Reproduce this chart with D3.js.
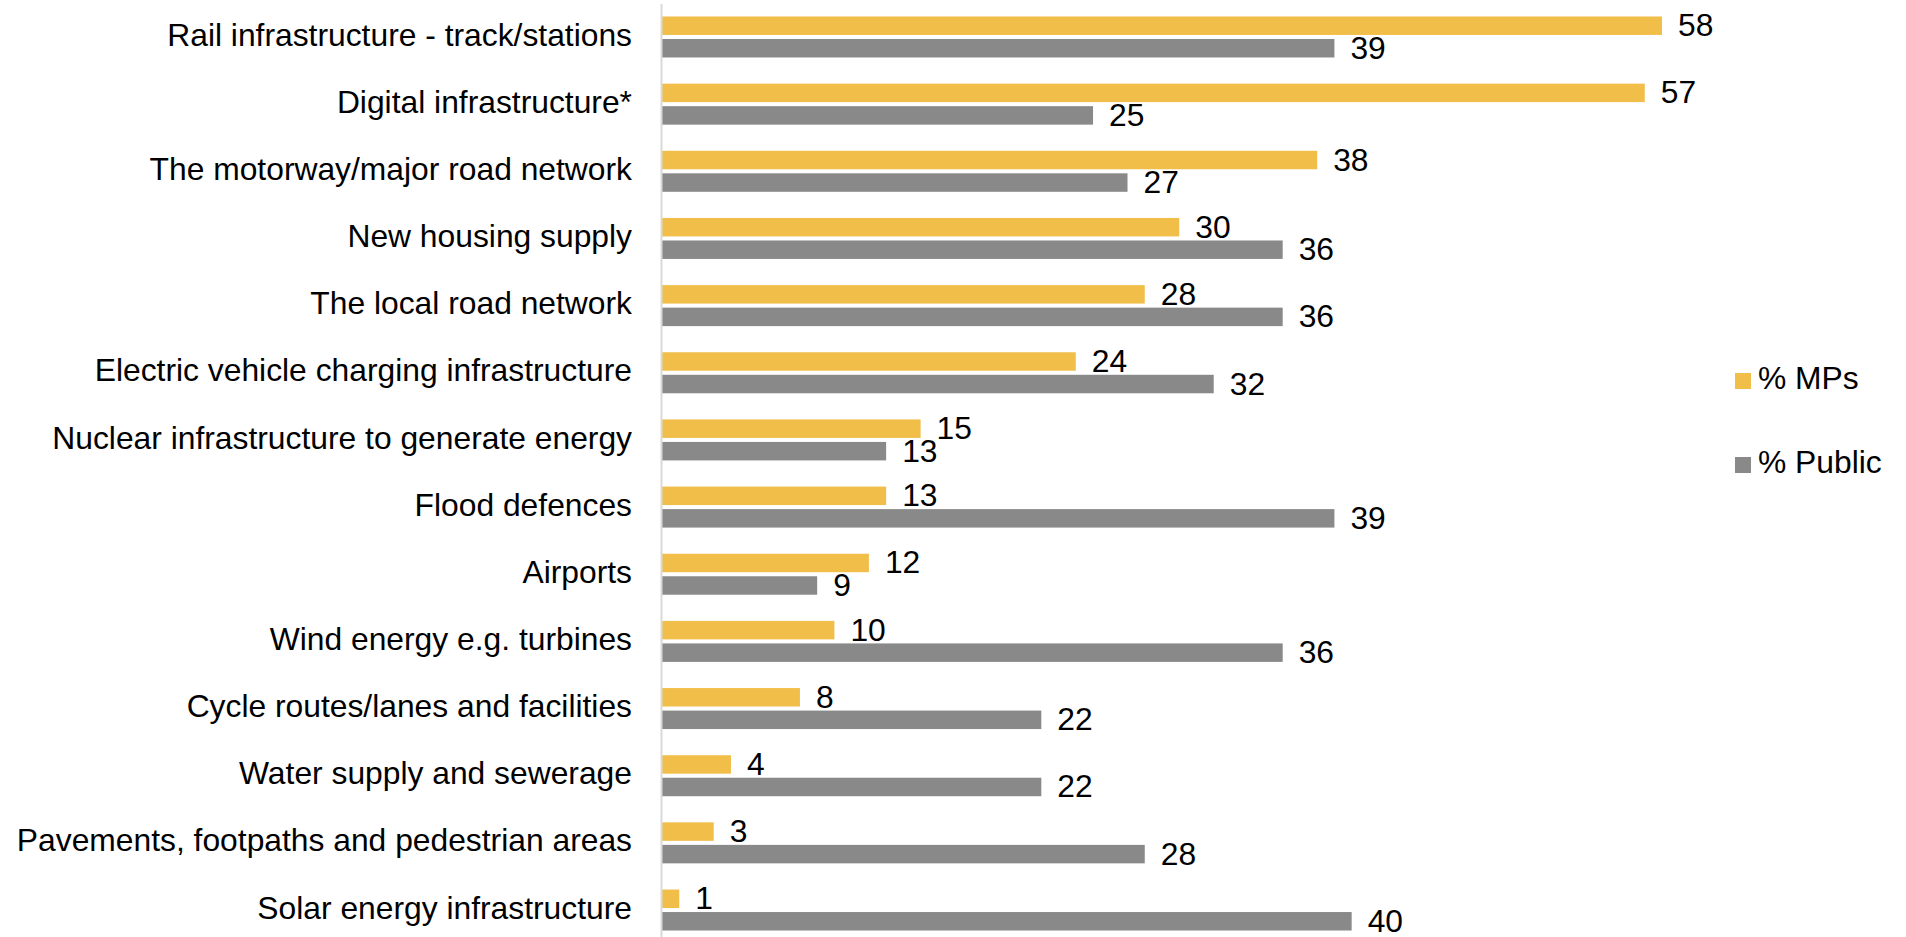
<!DOCTYPE html>
<html>
<head>
<meta charset="utf-8">
<script src="https://cdn.jsdelivr.net/npm/d3@7"></script>
<style>
  html, body { margin: 0; padding: 0; background: #fff; overflow: hidden; }
  text { font-family: Arial, "Liberation Sans", sans-serif; fill: #000; }
</style>
</head>
<body>
<svg id="chart" width="1906" height="937"></svg>
<script>
const categories = [
  "Rail infrastructure - track/stations",
  "Digital infrastructure*",
  "The motorway/major road network",
  "New housing supply",
  "The local road network",
  "Electric vehicle charging infrastructure",
  "Nuclear infrastructure to generate energy",
  "Flood defences",
  "Airports",
  "Wind energy e.g. turbines",
  "Cycle routes/lanes and facilities",
  "Water supply and sewerage",
  "Pavements, footpaths and pedestrian areas",
  "Solar energy infrastructure"
];
const mpValues     = [58, 57, 38, 30, 28, 24, 15, 13, 12, 10, 8, 4, 3, 1];
const publicValues = [39, 25, 27, 36, 36, 32, 13, 39, 9, 36, 22, 22, 28, 40];
const seriesNames  = ["% MPs", "% Public"];
const seriesColors = ["#F1BE4A", "#898989"];

const svg = d3.select("#chart");
const fontSize = 31.8;

const x = d3.scaleLinear().domain([0, 58]).range([662, 1662]);
const y = d3.scaleBand().domain(categories).range([3.4, 943.6]).paddingInner(0).paddingOuter(0);
const inner = d3.scaleBand().domain(seriesNames).range([-20.5, 20.5]).paddingInner(0.18);

const rows = categories.map((c, i) => ({
  cat: c,
  vals: [
    { s: seriesNames[0], v: mpValues[i], color: seriesColors[0] },
    { s: seriesNames[1], v: publicValues[i], color: seriesColors[1] }
  ]
}));

const groups = svg.append("g").selectAll("g")
  .data(rows).join("g")
  .attr("transform", d => `translate(0,${y(d.cat) + y.bandwidth() / 2})`);

groups.selectAll("rect")
  .data(d => d.vals).join("rect")
  .attr("x", x(0))
  .attr("y", d => inner(d.s))
  .attr("width", d => x(d.v) - x(0))
  .attr("height", inner.bandwidth())
  .attr("fill", d => d.color);

groups.selectAll("text.val")
  .data(d => d.vals).join("text")
  .attr("class", "val")
  .attr("x", d => x(d.v) + 16)
  .attr("y", d => inner(d.s) + inner.bandwidth() / 2 + 10.5)
  .style("font-size", fontSize + "px")
  .text(d => d.v);

// Category axis
const axis = d3.axisLeft(y).tickSize(0).tickPadding(29);
const axG = svg.append("g").attr("transform", "translate(661,0)").call(axis);
axG.select(".domain").attr("stroke", "#D9D9D9").attr("stroke-width", 2);
axG.selectAll(".tick text")
  .attr("dy", "0.27em")
  .style("font-size", fontSize + "px")
  .style("font-family", 'Arial, "Liberation Sans", sans-serif')
  .attr("fill", "#000");

// Legend
const legendY = d3.scalePoint().domain(seriesNames).range([381, 465]);
const leg = svg.append("g").selectAll("g")
  .data(seriesNames).join("g")
  .attr("transform", d => `translate(1735,${legendY(d)})`);
leg.append("rect")
  .attr("x", 0).attr("y", -8).attr("width", 16).attr("height", 16)
  .attr("fill", (d, i) => seriesColors[i]);
leg.append("text")
  .attr("x", 23).attr("y", 8)
  .style("font-size", fontSize + "px")
  .text(d => d);
</script>
</body>
</html>
